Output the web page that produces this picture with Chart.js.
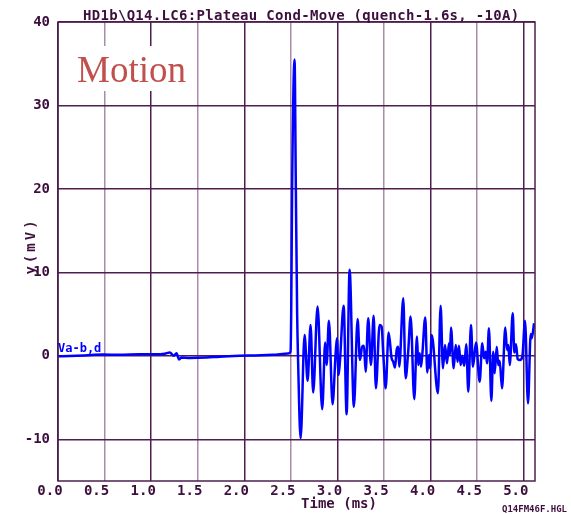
<!DOCTYPE html>
<html>
<head>
<meta charset="utf-8">
<script src="https://cdn.jsdelivr.net/npm/chart.js@4"></script>
<style>
  html, body { margin: 0; padding: 0; background: #fff; }
  canvas { display: block; }
</style>
</head>
<body>
<canvas id="myChart" width="571" height="514"></canvas>
<script>
// Time axis (ms) and voltage (mV)
var timeMs = [
  0.000, 0.126, 0.287, 0.480, 0.663, 0.878, 1.039, 1.146, 1.200, 1.243,
  1.272, 1.300, 1.325, 1.415, 1.594, 1.737, 1.953, 2.113, 2.306, 2.470,
  2.496, 2.503, 2.513, 2.539, 2.553, 2.567, 2.578, 2.604,
  2.647, 2.679, 2.711, 2.739, 2.786, 2.836, 2.868, 2.883, 2.908, 2.947,
  2.980, 2.994, 3.012, 3.026, 3.066, 3.098, 3.130, 3.176, 3.216, 3.241,
  3.265, 3.284, 3.302, 3.330, 3.359, 3.388, 3.412, 3.452, 3.474, 3.491,
  3.517, 3.549, 3.581, 3.598, 3.617, 3.635, 3.652, 3.663, 3.706, 3.731,
  3.759, 3.785, 3.824, 3.853, 3.867, 3.882, 3.896, 3.910, 3.942, 3.964,
  3.982, 3.993, 4.011, 4.078, 4.107, 4.132, 4.154, 4.175, 4.197, 4.207,
  4.218, 4.247, 4.269, 4.290, 4.304, 4.322, 4.339, 4.361, 4.382, 4.404,
  4.433, 4.454, 4.487, 4.526, 4.554, 4.573, 4.591, 4.605, 4.626, 4.651,
  4.672, 4.687, 4.709, 4.726, 4.741, 4.766, 4.801, 4.820, 4.834, 4.849,
  4.881, 4.898, 4.916, 4.934, 4.959, 4.984, 5.013, 5.045, 5.074, 5.085,
  5.110
];
var voltMv = [
  -0.05, -0.02, 0.05, 0.15, 0.12, 0.20, 0.18, 0.25, 0.40, 0.00,
  0.30, -0.43, -0.20, -0.25, -0.20, -0.10, 0.00, 0.05, 0.12, 0.28,
  0.5, 5.0, 20.0, 35.5, 20.0, 5.0, -1.0, -9.9,
  2.5, -3.0, 3.7, -4.4, 5.9, -6.4, 1.6, -1.1, 4.2, -5.8,
  0.3, 2.1, -2.3, -0.7, 6.0, -7.0, 10.3, -6.1, 4.4, -0.5,
  1.1, 1.2, -1.9, 4.5, -1.1, 4.8, -3.9, 3.7, 3.5, 0.3,
  -3.9, 2.8, -0.3, -0.7, -1.4, 0.7, 1.1, -1.3, 6.9, -2.7,
  0.5, 4.7, -5.2, 2.3, -1.1, 0.3, -1.3, 0.1, 4.6, -2.0,
  0.1, -1.5, 2.5, -4.5, 6.0, -1.5, 1.3, -0.9, 1.5, 0.1,
  3.4, -1.5, 1.3, -0.7, 1.2, -1.1, 0.0, -1.2, 1.4, -4.3,
  3.7, -1.3, 1.6, -3.1, 1.5, -0.3, 0.5, -0.9, 3.3, -5.4,
  0.5, -2.1, 1.1, -1.1, -0.6, -3.9, 3.4, 0.7, 1.3, -1.1,
  5.1, 0.4, 1.4, -0.4, -0.5, -0.1, 4.2, -5.7, 2.6, 2.1,
  3.9
];
var xTicks = [0, 0.5, 1.0, 1.5, 2.0, 2.5, 3.0, 3.5, 4.0, 4.5, 5.0];
var yTicks = [-10, 0, 10, 20, 30, 40];

var dark = '#4e1f4e';
var light = '#a98ca9';
var textCol = '#3c0f3c';

var points = timeMs.map(function (t, i) { return { x: t, y: voltMv[i] }; });

// frame, labels and the "Motion" note drawn on top of the chart
var decor = {
  id: 'decor',
  afterDraw: function (chart) {
    var c = chart.ctx, a = chart.chartArea;
    c.save();
    c.strokeStyle = dark;
    c.lineWidth = 1.5;
    c.strokeRect(a.left, a.top, a.right - a.left, a.bottom - a.top);

    c.fillStyle = textCol;
    c.font = 'bold 14px "DejaVu Sans Mono"';
    c.textBaseline = 'alphabetic';
    c.textAlign = 'left';
    c.letterSpacing = '0.3px';
    c.fillText('HD1b\\Q14.LC6:Plateau Cond-Move (quench-1.6s, -10A)', 83, 20);
    c.letterSpacing = '0px';

    c.textAlign = 'center';
    c.fillText('Time (ms)', 339, 508);

    c.font = 'bold 9px "DejaVu Sans Mono"';
    c.textAlign = 'right';
    c.fillText('Q14FM46F.HGL', 567, 512);

    // rotated y title
    c.save();
    c.translate(35, 246);
    c.rotate(-Math.PI / 2);
    c.font = 'bold 14px "DejaVu Sans Mono"';
    c.letterSpacing = '3px';
    c.textAlign = 'center';
    c.fillText('y(mV)', 0, 0);
    c.restore();

    // series label
    c.fillStyle = '#0000ff';
    c.font = 'bold 12px "DejaVu Sans Mono"';
    c.textAlign = 'left';
    c.fillText('Va-b,d', 58, 352);

    // white box with "Motion"
    c.fillStyle = '#ffffff';
    c.fillRect(a.left + 1, 46, 132, 45);
    c.fillStyle = '#c0504d';
    c.font = '37px "Liberation Serif"';
    c.fillText('Motion', 77, 82);
    c.restore();
  }
};

var ctx = document.getElementById('myChart').getContext('2d');
var chart = new Chart(ctx, {
  type: 'line',
  data: {
    datasets: [{
      label: 'Va-b,d',
      data: points,
      borderColor: '#0000ff',
      borderWidth: 2.5,
      pointRadius: 0,
      cubicInterpolationMode: 'monotone',
      fill: false
    }]
  },
  options: {
    responsive: false,
    animation: false,
    layout: { padding: { left: 0, right: 36, top: 22, bottom: 0 } },
    plugins: {
      legend: { display: false },
      tooltip: { enabled: false }
    },
    scales: {
      x: {
        type: 'linear',
        min: 0,
        max: 5.12,
        afterBuildTicks: function (s) { s.ticks = xTicks.map(function (v) { return { value: v }; }); },
        afterFit: function (s) { s.height = 33; },
        border: { display: false },
        grid: {
          drawTicks: false,
          lineWidth: 1.5,
          color: function (c) { return c.tick && c.tick.value % 1 === 0 ? dark : light; }
        },
        ticks: {
          padding: 2,
          labelOffset: -8,
          maxRotation: 0,
          autoSkip: false,
          color: textCol,
          font: { family: 'DejaVu Sans Mono', size: 14, weight: 'bold' },
          callback: function (v) { return Number(v).toFixed(1); }
        }
      },
      y: {
        min: -15,
        max: 40,
        afterBuildTicks: function (s) { s.ticks = yTicks.map(function (v) { return { value: v }; }); },
        afterFit: function (s) { s.width = 58; },
        border: { display: false },
        grid: {
          drawTicks: false,
          lineWidth: 1.5,
          color: dark
        },
        ticks: {
          padding: 8,
          autoSkip: false,
          color: textCol,
          font: { family: 'DejaVu Sans Mono', size: 14, weight: 'bold' }
        }
      }
    }
  },
  plugins: [decor]
});
</script>
</body>
</html>
